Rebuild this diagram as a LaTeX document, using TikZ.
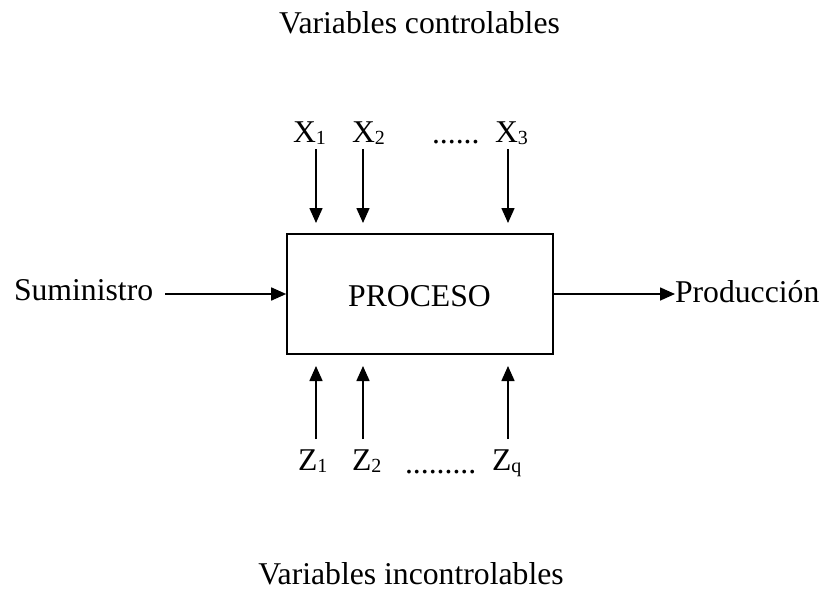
\documentclass[tikz,border=0pt]{standalone}
\usepackage{fontspec}
\setmainfont{Liberation Serif}
\usetikzlibrary{arrows.meta}
\newcommand{\mysub}[1]{\raisebox{-2pt}{\fontsize{20}{20}\selectfont #1}}
\begin{document}
\begin{tikzpicture}[x=1pt,y=-1pt,
  lbl/.style={inner sep=0pt,outer sep=0pt,font=\fontsize{31.7}{38}\selectfont},
  arr/.style={line width=1.6pt,-{Triangle[length=15pt,width=13pt]}},
  procbox/.style={draw,line width=1.6pt,minimum width=266pt,minimum height=120pt,inner sep=0pt,font=\fontsize{31.7}{38}\selectfont}]
\useasboundingbox (0,0) rectangle (823,590);
% titles
\node[lbl,anchor=base] (tctl) at (419.5,33) {Variables controlables};
\node[lbl,anchor=base] (tinc) at (411,584) {Variables incontrolables};
% process box
\node[procbox] (proc) at (420,294) {};
\node[lbl,anchor=base] (proctxt) at (419.5,306) {PROCESO};
% side labels
\node[lbl,anchor=base west] (sum) at (14,300) {Suministro};
\node[lbl,anchor=base west] (prod) at (675,302) {Producción};
\draw[arr,shorten <=12pt] (sum.east |- proc.west) -- (proc.west);
\draw[arr] (proc.east) -- (proc.east -| prod.west);
% controllable variables
\node[lbl,anchor=base west] (x1) at (293,142) {X\mysub{1}};
\node[lbl,anchor=base west] (x2) at (352,142) {X\mysub{2}};
\node[lbl,anchor=base west] (xd) at (432,143) {......};
\node[lbl,anchor=base west] (x3) at (495,142) {X\mysub{3}};
\coordinate (x1s) at (316,149); \coordinate (x1e) at (316,223);
\coordinate (x2s) at (363,149); \coordinate (x2e) at (363,223);
\coordinate (x3s) at (508,149); \coordinate (x3e) at (508,223);
\draw[arr] (x1s) -- (x1e);
\draw[arr] (x2s) -- (x2e);
\draw[arr] (x3s) -- (x3e);
% uncontrollable variables
\node[lbl,anchor=base west] (z1) at (298,470) {Z\mysub{1}};
\node[lbl,anchor=base west] (z2) at (352,470) {Z\mysub{2}};
\node[lbl,anchor=base west] (zd) at (405,473) {.........};
\node[lbl,anchor=base west] (zq) at (492,470) {Z\mysub{q}};
\coordinate (z1s) at (316,439); \coordinate (z1e) at (316,366);
\coordinate (z2s) at (363,439); \coordinate (z2e) at (363,366);
\coordinate (z3s) at (508,439); \coordinate (z3e) at (508,366);
\draw[arr] (z1s) -- (z1e);
\draw[arr] (z2s) -- (z2e);
\draw[arr] (z3s) -- (z3e);
\end{tikzpicture}
\end{document}
